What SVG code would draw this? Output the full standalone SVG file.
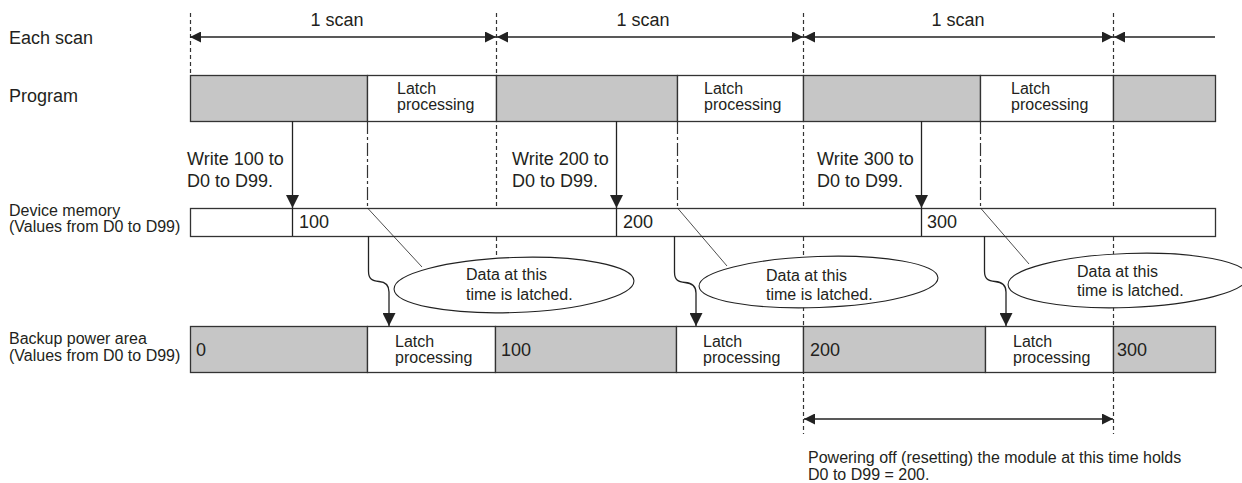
<svg xmlns="http://www.w3.org/2000/svg" width="1242" height="483" viewBox="0 0 1242 483">
<style>
text{font-family:"Liberation Sans",Arial,sans-serif;fill:#231f20}
.big{font-size:18px}
.sm{font-size:16px}
.gray{fill:#c6c6c6;stroke:#333;stroke-width:1.3}
.white{fill:#fff;stroke:#333;stroke-width:1.3}
.guide{stroke:#333;stroke-width:1.2;stroke-dasharray:4 3;fill:none}
.dd{stroke:#333;stroke-width:1.2;stroke-dasharray:13 3 3 3;fill:none}
.arr{stroke:#222;stroke-width:1.3;fill:none}
.thin{stroke:#222;stroke-width:0.8;fill:none}
.callout{fill:#fff;stroke:#222;stroke-width:1.1}
</style>
<defs>
<marker id="ah" markerUnits="userSpaceOnUse" markerWidth="13" markerHeight="13" refX="13" refY="6.5" orient="auto-start-reverse"><path d="M0,0 L13,6.5 L0,13 z" fill="#222"/></marker>
<marker id="ahs" markerUnits="userSpaceOnUse" markerWidth="11" markerHeight="11" refX="11" refY="5.5" orient="auto-start-reverse"><path d="M0,0 L11,5.5 L0,11 z" fill="#222"/></marker>
</defs>

<g id="guides">
<line class="guide" x1="190.5" y1="13" x2="190.5" y2="75"/>
<line class="guide" x1="496.5" y1="13" x2="496.5" y2="255"/>
<line class="guide" x1="803.5" y1="13" x2="803.5" y2="434"/>
<line class="guide" x1="1113.5" y1="13" x2="1113.5" y2="434"/>
<line class="dd" x1="367.5" y1="121" x2="367.5" y2="208"/>
<line class="dd" x1="677.5" y1="121" x2="677.5" y2="208"/>
<line class="dd" x1="980.5" y1="121" x2="980.5" y2="208"/>
</g>

<g id="row-labels">
<text class="big" x="9" y="44">Each scan</text>
<text class="big" x="9" y="102">Program</text>
<text class="sm" x="9" y="216">Device memory</text>
<text class="sm" x="9" y="232">(Values from D0 to D99)</text>
<text class="sm" x="9" y="344">Backup power area</text>
<text class="sm" x="9" y="361">(Values from D0 to D99)</text>
</g>

<g id="scan-labels">
<text class="big" x="337" y="26" text-anchor="middle">1 scan</text>
<text class="big" x="643" y="26" text-anchor="middle">1 scan</text>
<text class="big" x="958" y="26" text-anchor="middle">1 scan</text>
</g>

<g id="program">
<rect class="gray" x="190.5" y="75.5" width="177" height="46"/>
<rect class="white" x="367.5" y="75.5" width="129" height="46"/>
<rect class="gray" x="496.5" y="75.5" width="181" height="46"/>
<rect class="white" x="677.5" y="75.5" width="126" height="46"/>
<rect class="gray" x="803.5" y="75.5" width="177" height="46"/>
<rect class="white" x="980.5" y="75.5" width="133" height="46"/>
<rect class="gray" x="1113.5" y="75.5" width="102" height="46"/>
<text class="sm" x="397" y="94">Latch</text>
<text class="sm" x="397" y="110">processing</text>
<text class="sm" x="704" y="94">Latch</text>
<text class="sm" x="704" y="110">processing</text>
<text class="sm" x="1011" y="94">Latch</text>
<text class="sm" x="1011" y="110">processing</text>
</g>

<g id="write-labels">
<text class="big" x="187" y="165">Write 100 to</text>
<text class="big" x="187" y="187">D0 to D99.</text>
<text class="big" x="512" y="165">Write 200 to</text>
<text class="big" x="512" y="187">D0 to D99.</text>
<text class="big" x="817" y="165">Write 300 to</text>
<text class="big" x="817" y="187">D0 to D99.</text>
</g>

<g id="device-memory">
<rect class="white" x="190.5" y="208.5" width="1025" height="28"/>
<line class="arr" x1="292.5" y1="208" x2="292.5" y2="236"/>
<line class="arr" x1="616.5" y1="208" x2="616.5" y2="236"/>
<line class="arr" x1="921.5" y1="208" x2="921.5" y2="236"/>
<text class="big" x="299" y="228">100</text>
<text class="big" x="623" y="228">200</text>
<text class="big" x="927" y="228">300</text>
</g>

<g id="backup">
<rect class="gray" x="190.5" y="326.5" width="177" height="46"/>
<rect class="white" x="367.5" y="326.5" width="128" height="46"/>
<rect class="gray" x="495.5" y="326.5" width="181" height="46"/>
<rect class="white" x="676.5" y="326.5" width="127" height="46"/>
<rect class="gray" x="803.5" y="326.5" width="182" height="46"/>
<rect class="white" x="985.5" y="326.5" width="128" height="46"/>
<rect class="gray" x="1113.5" y="326.5" width="102" height="46"/>
<text class="big" x="196" y="356">0</text>
<text class="big" x="501" y="356">100</text>
<text class="big" x="810" y="356">200</text>
<text class="big" x="1117" y="356">300</text>
<text class="sm" x="395" y="347">Latch</text>
<text class="sm" x="395" y="363">processing</text>
<text class="sm" x="703" y="347">Latch</text>
<text class="sm" x="703" y="363">processing</text>
<text class="sm" x="1013" y="347">Latch</text>
<text class="sm" x="1013" y="363">processing</text>
</g>

<g id="connectors">
<line class="arr" x1="190" y1="37" x2="496" y2="37" marker-start="url(#ahs)" marker-end="url(#ahs)"/>
<line class="arr" x1="497" y1="37" x2="803" y2="37" marker-start="url(#ahs)" marker-end="url(#ahs)"/>
<line class="arr" x1="804" y1="37" x2="1113" y2="37" marker-start="url(#ahs)" marker-end="url(#ahs)"/>
<line class="arr" x1="1114" y1="37" x2="1215" y2="37" marker-start="url(#ahs)"/>
<line class="arr" x1="292.5" y1="121" x2="292.5" y2="208" marker-end="url(#ah)"/>
<line class="arr" x1="616.5" y1="121" x2="616.5" y2="208" marker-end="url(#ah)"/>
<line class="arr" x1="921.5" y1="121" x2="921.5" y2="208" marker-end="url(#ah)"/>
<path class="arr" d="M368.5,236 V271 C368.5,279 372,281 379,281.5 C386,282 389,285 389,292 V326" marker-end="url(#ah)"/>
<path class="arr" d="M674.5,236 V272 C674.5,280 678,282 685,282.5 C692,283 696,286 696,293 V326" marker-end="url(#ah)"/>
<path class="arr" d="M984.5,236 V271 C984.5,279 988,281 995,281.5 C1002,282 1006,285 1006,292 V326" marker-end="url(#ah)"/>
<line class="thin" x1="367.5" y1="208" x2="422" y2="267"/>
<line class="thin" x1="677.5" y1="208" x2="727" y2="266"/>
<line class="thin" x1="980.5" y1="208" x2="1029" y2="264"/>
<line class="arr" x1="804" y1="419" x2="1113" y2="419" marker-start="url(#ahs)" marker-end="url(#ahs)"/>
</g>

<g id="callout-1">
<ellipse class="callout" cx="514" cy="285" rx="120" ry="27.5" transform="rotate(-2 514 285)"/>
<text class="sm" x="466" y="280">Data at this</text>
<text class="sm" x="466" y="300">time is latched.</text>
</g>
<g id="callout-2">
<ellipse class="callout" cx="818.5" cy="282" rx="119.5" ry="25.5" transform="rotate(-2 818.5 282)"/>
<text class="sm" x="766" y="281">Data at this</text>
<text class="sm" x="766" y="300">time is latched.</text>
</g>
<g id="callout-3">
<ellipse class="callout" cx="1128" cy="280.5" rx="120" ry="27" transform="rotate(-2 1128 280.5)"/>
<text class="sm" x="1077" y="277">Data at this</text>
<text class="sm" x="1077" y="296">time is latched.</text>
</g>

<g id="note">
<text class="sm" x="808" y="463">Powering off (resetting) the module at this time holds</text>
<text class="sm" x="808" y="480">D0 to D99 = 200.</text>
</g>
</svg>
